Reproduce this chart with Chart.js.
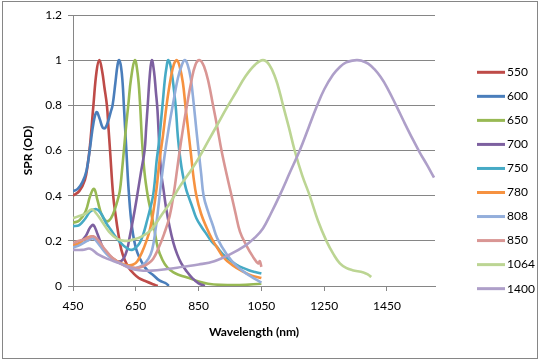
<!DOCTYPE html>
<html lang="en">
<head>
<meta charset="UTF-8">
<title>SPR spectra</title>
<script src="https://cdn.jsdelivr.net/npm/chart.js"></script>
<style>
  body { margin: 0; background: #fff; }
  #wrap { width: 540px; height: 360px; }
</style>
</head>
<body>
<div id="wrap"><canvas id="sprChart" width="540" height="360"></canvas></div>
<script>
// legend names and line colours
const seriesNames = ["550", "600", "650", "700", "750", "780", "808", "850", "1064", "1400"];
const seriesColors = ["#BE4B48", "#4A7EBB", "#98B954", "#7D60A0", "#46AAC5", "#F69240",
                      "#93AEDB", "#D99694", "#BCD593", "#AE9FC9"];

const xTicks = [450, 650, 850, 1050, 1250, 1450];
const yTicks = [0, 0.2, 0.4, 0.6, 0.8, 1, 1.2];

// [wavelength nm, OD]
const s550 = [[450,0.40],[470,0.42],[488,0.47],[497,0.54],[504,0.62],[515,0.80],[525,0.95],[534,1.0],[543,0.95],[550,0.88],[558,0.80],[563,0.70],[568,0.60],[578,0.40],[586,0.31],[594,0.235],[604,0.16],[615,0.115],[628,0.08],[642,0.057],[660,0.035],[684,0.02],[705,0.008],[720,0.0]];
const s600 = [[450,0.42],[465,0.43],[480,0.46],[493,0.51],[505,0.62],[515,0.72],[525,0.77],[535,0.74],[545,0.70],[553,0.70],[562,0.73],[570,0.77],[576,0.80],[585,0.90],[592,0.98],[597,1.0],[603,0.97],[608,0.90],[612,0.80],[620,0.60],[628,0.41],[638,0.26],[652,0.16],[674,0.093],[690,0.065],[705,0.049],[725,0.025],[748,0.01],[755,0.0]];
const s650 = [[450,0.28],[470,0.29],[490,0.33],[505,0.40],[517,0.43],[528,0.38],[540,0.32],[553,0.29],[565,0.29],[578,0.32],[590,0.37],[599,0.42],[606,0.51],[612,0.60],[620,0.72],[626,0.80],[635,0.92],[647,1.0],[656,0.94],[663,0.82],[670,0.64],[678,0.50],[688,0.40],[698,0.33],[708,0.26],[720,0.17],[735,0.115],[750,0.083],[770,0.06],[790,0.048],[820,0.035],[850,0.02],[880,0.01],[920,0.005],[980,0.004],[1050,0.01]];
const s700 = [[450,0.18],[470,0.19],[490,0.22],[505,0.26],[515,0.27],[528,0.23],[545,0.17],[560,0.14],[578,0.12],[595,0.108],[610,0.12],[622,0.16],[631,0.22],[642,0.30],[652,0.38],[666,0.50],[678,0.60],[683,0.70],[688,0.80],[695,0.94],[701,1.0],[708,0.95],[714,0.86],[719,0.78],[725,0.62],[731,0.50],[738,0.43],[746,0.35],[758,0.26],[770,0.19],[782,0.14],[795,0.10],[812,0.065],[830,0.035],[850,0.012],[870,0.0]];
const s750 = [[450,0.265],[470,0.27],[490,0.30],[505,0.33],[525,0.34],[540,0.32],[555,0.28],[570,0.25],[590,0.21],[610,0.18],[625,0.165],[638,0.16],[650,0.17],[662,0.19],[674,0.23],[686,0.29],[697,0.35],[705,0.40],[711,0.47],[716,0.55],[724,0.64],[735,0.80],[743,0.92],[748,0.97],[753,1.0],[760,0.98],[767,0.92],[773,0.85],[778,0.78],[784,0.66],[792,0.56],[800,0.49],[810,0.43],[817,0.40],[830,0.35],[843,0.30],[860,0.26],[875,0.23],[890,0.20],[907,0.175],[928,0.14],[949,0.115],[970,0.095],[991,0.08],[1010,0.07],[1030,0.062],[1050,0.055]];
const s780 = [[450,0.18],[470,0.19],[490,0.21],[512,0.22],[528,0.20],[545,0.165],[565,0.135],[585,0.115],[605,0.10],[625,0.092],[642,0.095],[655,0.11],[670,0.15],[684,0.20],[695,0.25],[706,0.33],[716,0.43],[726,0.56],[736,0.66],[748,0.80],[760,0.91],[771,0.98],[781,1.0],[790,0.97],[800,0.90],[808,0.80],[817,0.69],[826,0.58],[834,0.48],[843,0.40],[858,0.32],[875,0.26],[892,0.21],[907,0.175],[930,0.125],[960,0.09],[990,0.065],[1020,0.046],[1050,0.035]];
const s808 = [[450,0.17],[470,0.18],[495,0.20],[515,0.21],[535,0.18],[555,0.145],[580,0.115],[605,0.097],[630,0.085],[650,0.08],[670,0.09],[690,0.12],[702,0.16],[712,0.24],[722,0.35],[730,0.45],[742,0.58],[755,0.70],[769,0.81],[784,0.92],[797,0.98],[806,1.0],[815,0.98],[825,0.92],[835,0.80],[843,0.69],[850,0.60],[858,0.50],[866,0.40],[880,0.33],[895,0.27],[910,0.21],[940,0.14],[970,0.09],[1000,0.057],[1025,0.035],[1050,0.015]];
const s850 = [[450,0.19],[470,0.20],[495,0.21],[515,0.22],[532,0.20],[550,0.165],[575,0.125],[600,0.10],[625,0.085],[650,0.08],[670,0.085],[690,0.10],[705,0.12],[720,0.16],[740,0.23],[758,0.31],[772,0.42],[782,0.52],[790,0.60],[802,0.71],[813,0.80],[826,0.90],[840,0.98],[854,1.0],[868,0.97],[882,0.90],[896,0.80],[910,0.70],[923,0.60],[940,0.49],[955,0.40],[968,0.32],[982,0.24],[1002,0.18],[1023,0.13],[1040,0.10],[1045,0.11],[1050,0.085]];
const s1064 = [[450,0.30],[470,0.31],[490,0.32],[510,0.34],[525,0.32],[545,0.28],[565,0.24],[590,0.21],[615,0.20],[640,0.205],[670,0.22],[700,0.25],[730,0.31],[760,0.37],[790,0.44],[820,0.50],[850,0.565],[880,0.64],[910,0.715],[940,0.79],[970,0.86],[1000,0.93],[1030,0.98],[1055,1.0],[1075,0.98],[1095,0.92],[1110,0.85],[1119,0.80],[1138,0.70],[1156,0.60],[1180,0.49],[1204,0.40],[1230,0.29],[1257,0.20],[1280,0.14],[1300,0.10],[1320,0.08],[1340,0.07],[1375,0.06],[1390,0.05],[1400,0.04]];
const s1400 = [[450,0.16],[480,0.16],[505,0.165],[530,0.14],[560,0.12],[600,0.10],[630,0.08],[660,0.07],[700,0.068],[750,0.075],[800,0.085],[850,0.095],[900,0.11],[950,0.14],[1000,0.18],[1030,0.215],[1055,0.255],[1080,0.32],[1108,0.40],[1140,0.50],[1172,0.60],[1200,0.70],[1225,0.79],[1250,0.87],[1278,0.935],[1300,0.97],[1320,0.99],[1340,0.998],[1355,1.0],[1370,0.997],[1390,0.985],[1410,0.96],[1430,0.925],[1450,0.88],[1479,0.80],[1505,0.725],[1532,0.65],[1555,0.59],[1578,0.535],[1600,0.48]];

const allSeries = [s550, s600, s650, s700, s750, s780, s808, s850, s1064, s1400];

const gridGray = "#868686";
const tickFont = { family: "Lato, 'Open Sans', sans-serif", size: 12 };
const titleFont = { family: "Lato, 'Open Sans', sans-serif", size: 12, weight: "bold" };

// outer frame + right-hand legend
const frameAndLegend = {
  id: "frameAndLegend",
  afterDraw(chart) {
    const ctx = chart.ctx;
    ctx.save();
    ctx.strokeStyle = gridGray;
    ctx.lineWidth = 1;
    ctx.strokeRect(2.5, 1.5, 535, 357);

    ctx.font = "12px Lato, 'Open Sans', sans-serif";
    ctx.textBaseline = "middle";
    ctx.fillStyle = "#000";
    chart.data.datasets.forEach((ds, i) => {
      const y = 72.3 + i * 24.04;
      ctx.strokeStyle = ds.borderColor;
      ctx.lineWidth = 3;
      ctx.beginPath();
      ctx.moveTo(477, y);
      ctx.lineTo(505, y);
      ctx.stroke();
      ctx.fillText(ds.label, 507, y);
    });
    ctx.restore();
  }
};

new Chart(document.getElementById("sprChart"), {
  type: "line",
  data: {
    datasets: allSeries.map((pts, i) => ({
      label: seriesNames[i],
      data: pts.map(p => ({ x: p[0], y: p[1] })),
      borderColor: seriesColors[i],
      backgroundColor: seriesColors[i],
      order: allSeries.length - 1 - i
    }))
  },
  options: {
    responsive: false,
    animation: false,
    layout: { padding: { top: 15, right: 105, bottom: 0, left: 0 } },
    plugins: { legend: { display: false }, tooltip: { enabled: false } },
    elements: {
      point: { radius: 0 },
      line: { borderWidth: 2.6, tension: 0.4, fill: false }
    },
    scales: {
      x: {
        type: "linear",
        min: 450,
        max: 1603,
        afterBuildTicks: s => { s.ticks = xTicks.map(v => ({ value: v })); },
        afterFit: s => { s.height = 74; },
        grid: { drawOnChartArea: false, tickLength: 5, color: gridGray },
        border: { color: gridGray },
        ticks: { font: tickFont, color: "#000", padding: 8, maxRotation: 0, callback: v => String(v) },
        title: { display: true, text: "Wavelength (nm)", font: titleFont, color: "#000", padding: { top: 0, bottom: 21 } }
      },
      y: {
        min: 0,
        max: 1.2,
        afterBuildTicks: s => { s.ticks = yTicks.map(v => ({ value: v })); },
        afterFit: s => { s.width = 73; },
        grid: { color: gridGray, tickLength: 5 },
        border: { color: gridGray },
        ticks: { font: tickFont, color: "#000", padding: 6, callback: v => String(v) },
        title: { display: true, text: "SPR (OD)", font: titleFont, color: "#000", padding: { top: 21, bottom: 0 } }
      }
    }
  },
  plugins: [frameAndLegend]
});
</script>
</body>
</html>
